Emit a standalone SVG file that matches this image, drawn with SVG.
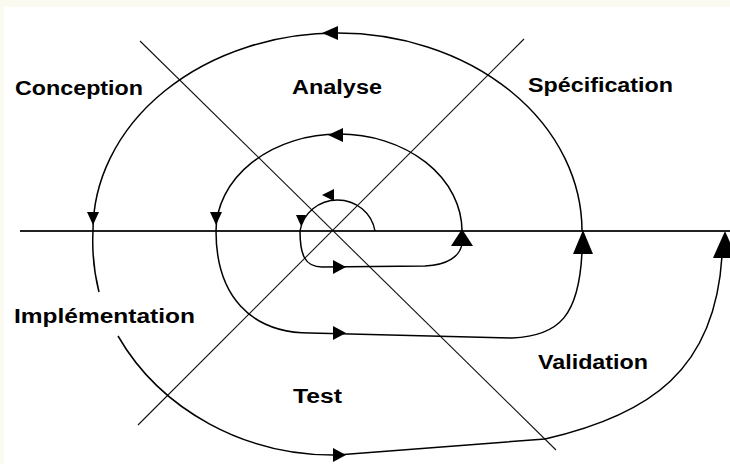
<svg xmlns="http://www.w3.org/2000/svg" width="730" height="464" viewBox="0 0 730 464">
  <style>
    .lbl { font-family: "Liberation Sans", Arial, sans-serif; font-weight: bold; font-size: 20px; fill: #000; }
    .axis { stroke: #222; stroke-width: 2; fill: none; }
    .diag { stroke: #111; stroke-width: 1.1; fill: none; }
    .spiral { stroke: #000; stroke-width: 1.5; fill: none; }
    .head { fill: #000; stroke: none; }
  </style>
  <rect x="0" y="0" width="730" height="464" fill="#FAFAF1"/>
  <rect x="4" y="7" width="726" height="457" fill="#FFFFFF"/>

  <g id="connectors">
    <line class="axis" x1="20" y1="231" x2="730" y2="231"/>
    <line class="diag" x1="140" y1="41" x2="556" y2="450"/>
    <line class="diag" x1="524" y1="39" x2="138" y2="425"/>

    <!-- inner loop -->
    <path class="spiral" d="M375 231 A38 37 0 0 0 300 231 C300 255 305 267 322 267 L425 266 C448 265 460 256 462 244"/>
    <!-- middle loop -->
    <path class="spiral" d="M462 231 A123 97 0 0 0 216 231 C216 295 250 333 310 333 L512 338 C560 336 579 315 582 252"/>
    <!-- outer loop -->
    <path class="spiral" d="M582 231 A244.5 198 0 0 0 93 231 A244 224 0 0 0 99 292"/>
    <path class="spiral" d="M118 336 A244 224 0 0 0 337 455 L545 439 C650 415 715 370 722 256"/>

    <!-- arrowheads: left-pointing (top) -->
    <polygon class="head" points="322,33 338,26 338,40"/>
    <polygon class="head" points="328,135 343,128 343,142"/>
    <polygon class="head" points="322,195 334,189 334,201"/>
    <!-- down-pointing -->
    <polygon class="head" points="87,212 99,212 93,225"/>
    <polygon class="head" points="210,212 222,212 216,225"/>
    <polygon class="head" points="296,215 306,215 301,226"/>
    <!-- right-pointing -->
    <polygon class="head" points="333,260 346,267 333,274"/>
    <polygon class="head" points="333,326 346,333 333,340"/>
    <polygon class="head" points="333,448 346,455 333,462"/>
    <!-- up-pointing -->
    <polygon class="head" points="462,229 451,246 473,246"/>
    <polygon class="head" points="583,230 573,254 593,254"/>
    <polygon class="head" points="725,231 713,258 737,258"/>
  </g>

  <g id="conception"><text class="lbl" x="15" y="95" textLength="128" lengthAdjust="spacingAndGlyphs">Conception</text></g>
  <g id="analyse"><text class="lbl" x="292" y="94" textLength="90" lengthAdjust="spacingAndGlyphs">Analyse</text></g>
  <g id="specification"><text class="lbl" x="528" y="92" textLength="145" lengthAdjust="spacingAndGlyphs">Spécification</text></g>
  <g id="implementation"><text class="lbl" x="14" y="323" textLength="181" lengthAdjust="spacingAndGlyphs">Implémentation</text></g>
  <g id="test"><text class="lbl" x="293" y="403" textLength="49" lengthAdjust="spacingAndGlyphs">Test</text></g>
  <g id="validation"><text class="lbl" x="538" y="369" textLength="110" lengthAdjust="spacingAndGlyphs">Validation</text></g>
</svg>
